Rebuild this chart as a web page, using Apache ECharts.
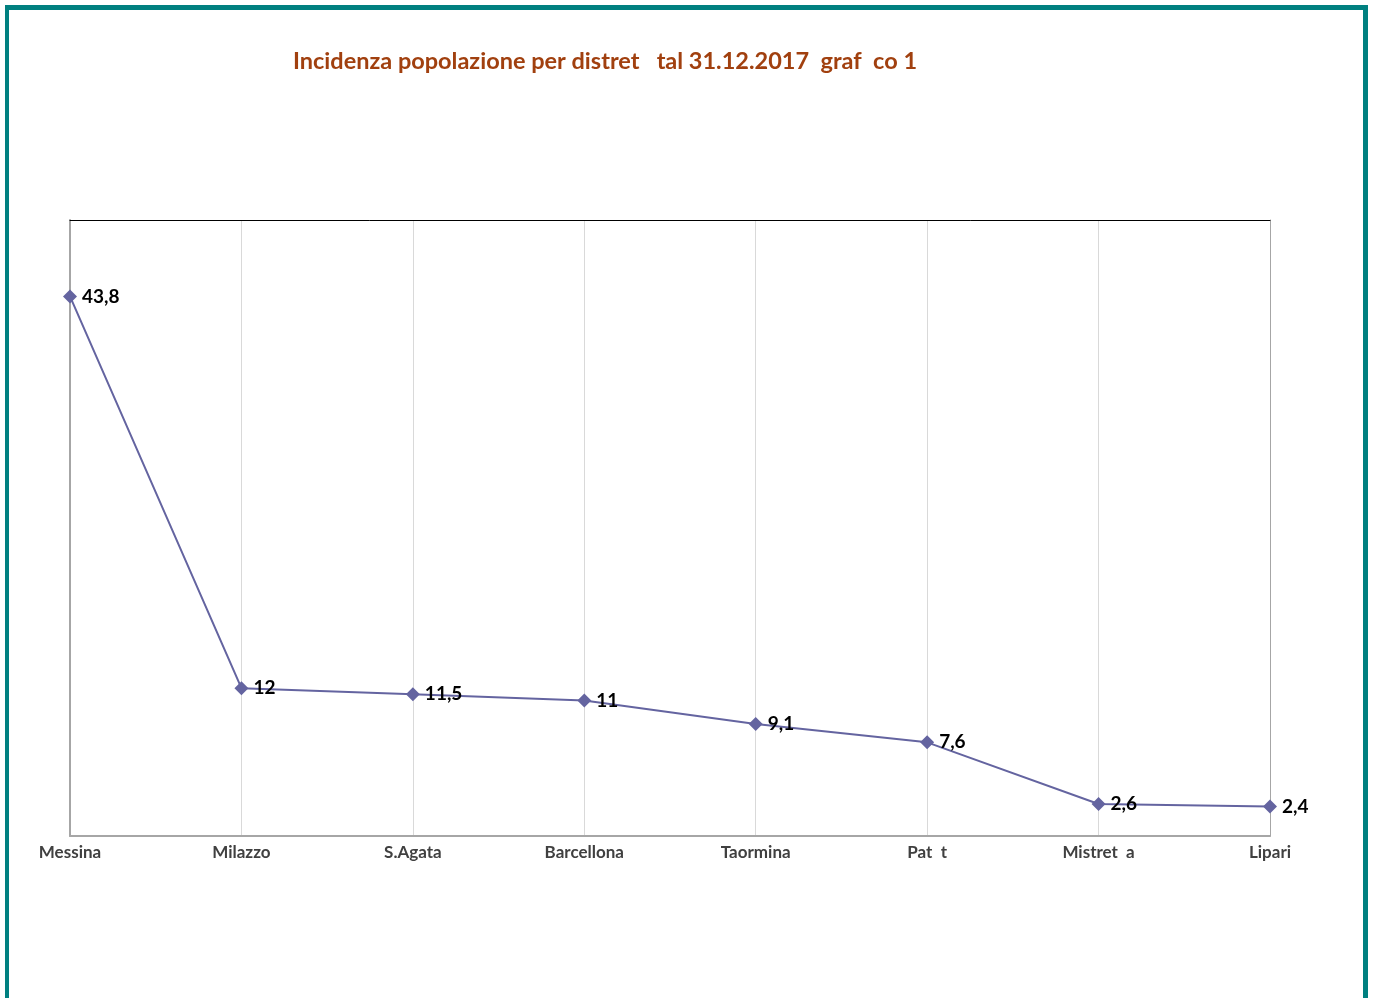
<!DOCTYPE html>
<html><head><meta charset="utf-8">
<script src="https://cdn.jsdelivr.net/npm/echarts@6/dist/echarts.min.js"></script>
<style>
html,body{margin:0;padding:0;background:#fff;}
#frame{position:absolute;left:5px;top:5px;width:1354px;height:1000px;border-left:4px solid #008080;border-right:5px solid #008080;border-top:5px solid #008080;}
#c{position:absolute;left:0;top:0;width:1375px;height:998px;}
</style></head><body>
<div id="frame"></div>
<div id="c"></div>
<script>
const categories = ['Messina','Milazzo','S.Agata','Barcellona','Taormina','Pat  t','Mistret  a','Lipari'];
const values = [43.8, 12, 11.5, 11, 9.1, 7.6, 2.6, 2.4];
const valueLabels = ['43,8','12','11,5','11','9,1','7,6','2,6','2,4'];
const titleText = 'Incidenza popolazione per distret   tal 31.12.2017  graf  co 1';

const chart = echarts.init(document.getElementById('c'));
const font = 'Lato, "Open Sans", sans-serif';
chart.setOption({
  animation:false,
  title:{text:titleText,left:600,top:44,textAlign:'center',
    textStyle:{color:'#a1400f',fontSize:23.5,fontWeight:'bold',fontFamily:font}},
  grid:{left:70,right:105,top:220,bottom:162},
  xAxis:[{type:'category',data:categories,boundaryGap:false,
    axisLine:{onZero:false,lineStyle:{color:'#a6a6a6',width:2}},axisTick:{show:false},
    axisLabel:{color:'#404040',fontWeight:'bold',fontSize:17,fontFamily:font,margin:8},
    splitLine:{show:true,lineStyle:{color:'#d9d9d9',width:1}}},
   {type:'category',data:categories,boundaryGap:false,position:'top',
    axisLine:{onZero:false,lineStyle:{color:'#000',width:1}},axisTick:{show:false},axisLabel:{show:false}}],
  yAxis:[{type:'value',min:0,max:50,interval:10,
    axisLine:{show:true,onZero:false,lineStyle:{color:'#a6a6a6',width:2}},axisTick:{show:false},axisLabel:{show:false},splitLine:{show:false}},
   {type:'value',min:0,max:50,interval:10,position:'right',
    axisLine:{show:true,onZero:false,lineStyle:{color:'#a6a6a6',width:1}},axisTick:{show:false},axisLabel:{show:false},splitLine:{show:false}}],
  series:[{type:'line',data:values,symbol:'diamond',symbolSize:14,
    lineStyle:{color:'#6464a0',width:2},itemStyle:{color:'#6464a0'},
    label:{show:true,position:'right',distance:5,color:'#000',fontWeight:'bold',fontSize:19,fontFamily:font,
      formatter:p=>valueLabels[p.dataIndex]}}]
});
</script></body></html>
